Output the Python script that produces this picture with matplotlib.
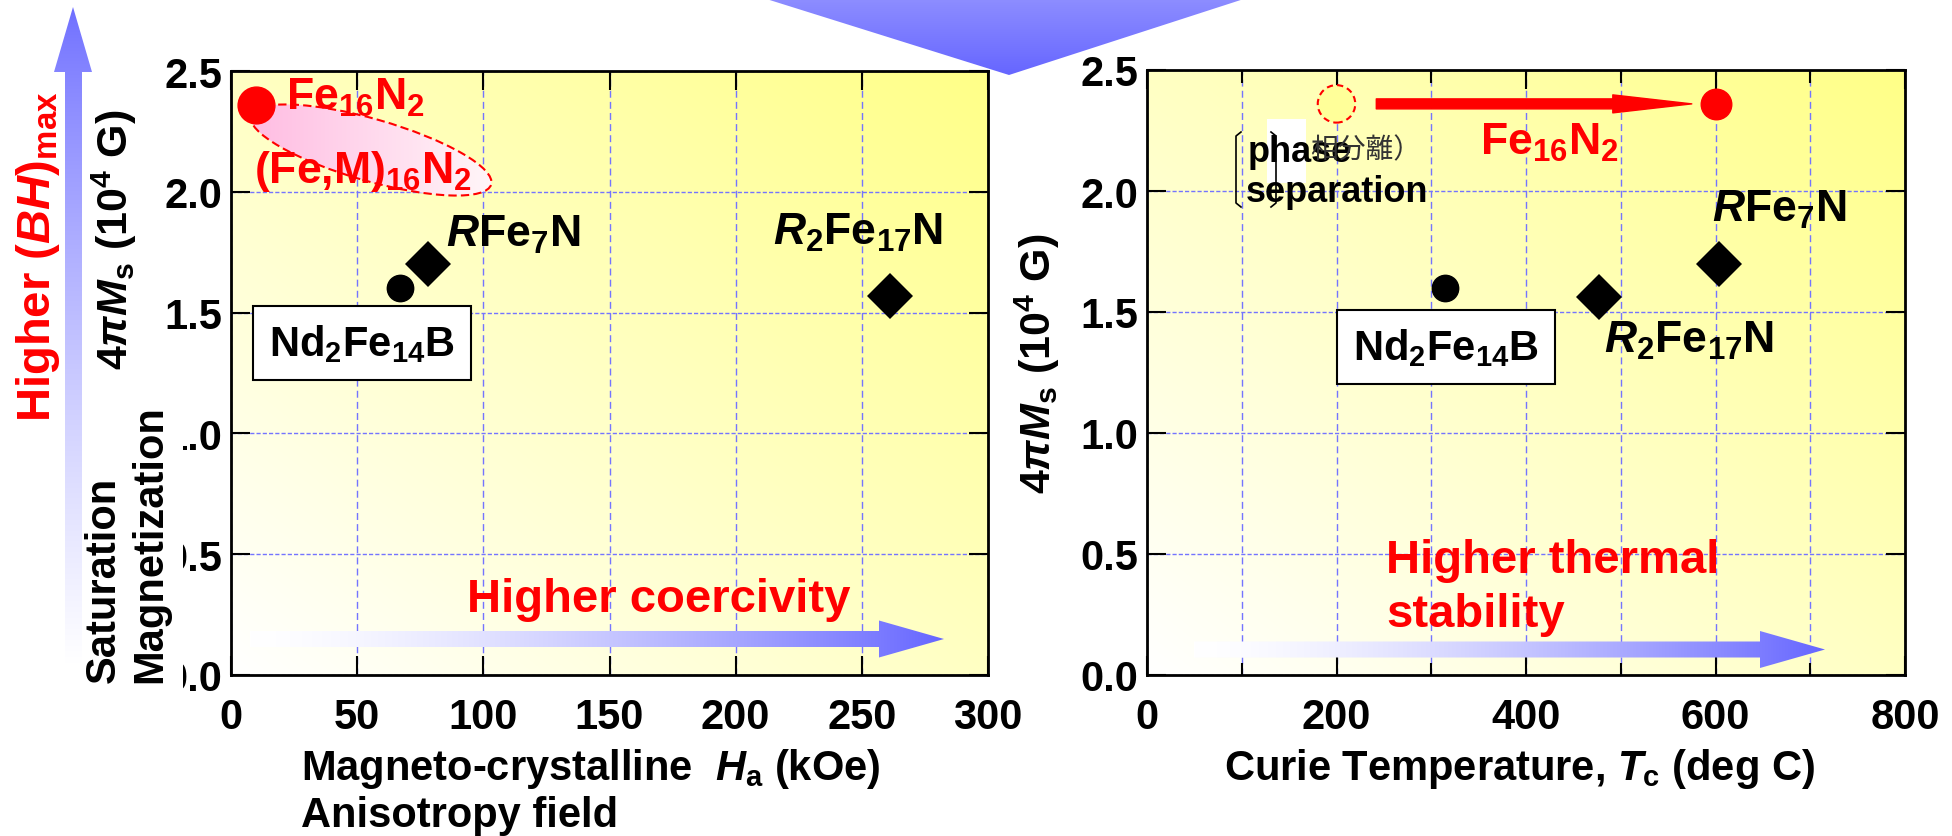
import matplotlib
matplotlib.use('Agg')
import matplotlib.pyplot as plt
import numpy as np
from matplotlib.patches import Ellipse, Polygon, Rectangle, FancyArrowPatch

plt.rcParams['font.family'] = ['Liberation Sans', 'DejaVu Sans']
plt.rcParams['font.weight'] = 'bold'
plt.rcParams['font.size'] = 30
plt.rcParams['mathtext.fontset'] = 'custom'
plt.rcParams['mathtext.rm'] = 'Liberation Sans:bold'
plt.rcParams['mathtext.it'] = 'Liberation Sans:italic:bold'
plt.rcParams['mathtext.bf'] = 'Liberation Sans:bold'

# ---- data ----
materials = ['Fe$_{16}$N$_{2}$', 'Nd$_{2}$Fe$_{14}$B', '$R$Fe$_{7}$N', '$R_{2}$Fe$_{17}$N']
ha_koe = [10, 67, 78, 261]          # anisotropy field
ms_left = [2.36, 1.60, 1.70, 1.57]   # 4piMs (10^4 G)
tc_degc = [600, 315, 604, 477]       # Curie temperature
ms_right = [2.36, 1.60, 1.70, 1.56]
phase_sep_tc = [200]
phase_sep_ms = [2.36]
left_xticks = [0, 50, 100, 150, 200, 250, 300]
right_xticks = [0, 200, 400, 600, 800]
right_minor = [100, 300, 500, 700]
yticks = [0.0, 0.5, 1.0, 1.5, 2.0, 2.5]

RED = '#ff0000'
BLUE = (0.40, 0.40, 1.0)
GRID = '#7474ff'
W, H = 1952, 837

fig = plt.figure(figsize=(W / 100, H / 100), dpi=100)
ax1 = fig.add_axes([231 / W, 1 - 676 / H, 757 / W, 604 / H])
ax2 = fig.add_axes([1147 / W, 1 - 676 / H, 758 / W, 605 / H])


def yellow_bg(ax, xmax):
    u = np.linspace(0, 1, 300)
    U, V = np.meshgrid(u, u[::-1])
    t = (U + V) / 2
    img = np.ones((300, 300, 3))
    img[..., 2] = 1 - t * (1 - 135 / 255)
    ax.imshow(img, extent=(0, xmax, 0, 2.5), aspect='auto', zorder=0,
              interpolation='bilinear')


def style_axis(ax, xmax, xticks, minor=None):
    ax.set_xticks(xticks)
    if minor:
        ax.set_xticks(minor, minor=True)
    ax.set_yticks(yticks)
    ax.set_yticklabels([f'{v:.1f}' for v in yticks])
    ax.tick_params(which='major', direction='in', length=14, width=1.5,
                   top=True, right=True, labelsize=30)
    ax.tick_params(which='minor', direction='in', length=9, width=1.5, top=True)
    ax.tick_params(axis='x', pad=16)
    ax.tick_params(axis='y', pad=6)
    for s in ax.spines.values():
        s.set_linewidth(2)
    ax.grid(True, axis='x', which='both', color=GRID, lw=1, ls=(0, (5, 3)))
    ax.grid(True, axis='y', which='major', color=GRID, lw=1, ls=(0, (3, 1.5)))
    ax.set_axisbelow(True)
    ax.set_xlim(0, xmax)
    ax.set_ylim(0, 2.5)


# ---- left panel: Ms vs anisotropy field ----
yellow_bg(ax1, 300)
# (Fe,M)16N2 region
region = Ellipse((3.71, (H - 151) / 100), 2.50, 0.62, angle=-16,
                 transform=fig.dpi_scale_trans, facecolor='none',
                 edgecolor=RED, lw=1.5, ls=(0, (4, 2)), zorder=1.2)
ax1.add_patch(region)
tg = np.linspace(0, 1, 200)
pink = np.stack([np.ones_like(tg), 0.72 + 0.26 * tg, 0.88 + 0.1 * tg], axis=-1)[None, :, :]
im = ax1.imshow(pink, extent=(0, 110, 1.9, 2.5), aspect='auto', zorder=1.1,
                interpolation='bilinear')
im.set_clip_path(Ellipse((3.71, (H - 151) / 100), 2.50, 0.62, angle=-16,
                         transform=fig.dpi_scale_trans))

ax1.plot(ha_koe[0], ms_left[0], 'o', color=RED, ms=26.5, zorder=3)
ax1.plot(ha_koe[1], ms_left[1], 'o', color='black', ms=19, zorder=3)
ax1.plot(ha_koe[2:], ms_left[2:], 'D', color='black', ms=23.5, mew=0, ls='none', zorder=3)

ax1.text(21.8, 2.344, materials[0], color=RED, fontsize=32, va='baseline')
ax1.text(9.1, 2.04, '(Fe,M)$_{16}$N$_{2}$', color=RED, fontsize=32, va='baseline')
ax1.text(85.3, 1.776, materials[2], fontsize=32, va='baseline')
ax1.text(214.7, 1.784, materials[3], fontsize=32, va='baseline')
ax1.text(52.0, 1.374, materials[1], fontsize=30, ha='center', va='center',
         bbox=dict(boxstyle='square,pad=0.38', fc='white', ec='black', lw=1.5))
style_axis(ax1, 300, left_xticks)

# ---- right panel: Ms vs Curie temperature ----
yellow_bg(ax2, 800)
ax2.scatter(phase_sep_tc, phase_sep_ms, s=27 ** 2, facecolor='#ffff99',
            edgecolor=RED, linewidths=1.5, linestyle=(0, (3, 2)), zorder=3)
ax2.add_patch(FancyArrowPatch((242, 2.36), (575, 2.36),
                              arrowstyle='simple,head_length=7.9,head_width=1.8,tail_width=1.0',
                              mutation_scale=7.2, color=RED, shrinkA=0, shrinkB=0, zorder=3))
ax2.plot(tc_degc[0], ms_right[0], 'o', color=RED, ms=22, zorder=3)
ax2.plot(tc_degc[1], ms_right[1], 'o', color='black', ms=19, zorder=3)
ax2.plot(tc_degc[2:], ms_right[2:], 'D', color='black', ms=23.5, mew=0, ls='none', zorder=3)

ax2.text(351, 2.153, materials[0], color=RED, fontsize=32, va='baseline')
ax2.text(596, 1.876, materials[2], fontsize=32, va='baseline')
ax2.text(482, 1.335, materials[3], fontsize=32, va='baseline')
ax2.text(315.6, 1.355, materials[1], fontsize=30, ha='center', va='center',
         bbox=dict(boxstyle='square,pad=0.38', fc='white', ec='black', lw=1.5))
style_axis(ax2, 800, right_xticks, right_minor)

# ---- overlay for decorations, in pixel coordinates ----
ov = fig.add_axes([0, 0, 1, 1], zorder=5)
ov.axis('off')


def grad_shape(pts, extent, c0, c1, vertical=False, power=1.0, z=2):
    t = np.linspace(0, 1, 256) ** power
    cols = np.array(c0)[None, :] * (1 - t[:, None]) + np.array(c1)[None, :] * t[:, None]
    img = cols[:, None, :] if vertical else cols[None, :, :]
    im = ov.imshow(img, extent=extent, aspect='auto', interpolation='bilinear', zorder=z)
    im.set_clip_path(Polygon(pts, closed=True, transform=ov.transData))


def harrow(x0, xh, x1, yc, sh, hh):
    return [(x0, yc - sh), (xh, yc - sh), (xh, yc - hh), (x1, yc),
            (xh, yc + hh), (xh, yc + sh), (x0, yc + sh)]


# top triangle
grad_shape([(760, -2), (1250, -2), (1009, 76)], (760, 1250, 76, -2),
           (0.56, 0.56, 1.0), (0.40, 0.40, 1.0), vertical=True)
# vertical arrow (higher BH max)
varrow = [(73, 8), (92, 73), (82, 73), (82, 665), (65, 665), (65, 73), (54, 73)]
grad_shape(varrow, (50, 96, 665, 8), (0.43, 0.43, 1.0), (1, 1, 1),
           vertical=True, power=0.8)
# horizontal arrows
grad_shape(harrow(250, 879, 944, 640, 8, 18.5), (250, 944, 660, 620),
           (1, 1, 1), BLUE, power=1.5)
grad_shape(harrow(1194, 1760, 1825, 650.5, 8, 18.5), (1194, 1825, 670, 630),
           (1, 1, 1), BLUE, power=1.5)

# white patch that hides the left tick labels
ov.add_patch(Rectangle((83, 398), 100, 302, facecolor='white', edgecolor='none', zorder=3))

ov.text(50, 257, 'Higher ($\\mathit{BH}$)$_{\\mathrm{max}}$', color=RED, fontsize=34,
        rotation=90, rotation_mode='anchor', ha='center', va='baseline', zorder=4)
ylab = '$\\mathit{4}\\pi M_{\\mathrm{s}}$ (10$^{4}$ G)'
ov.text(128, 240, ylab, fontsize=31, rotation=90, rotation_mode='anchor',
        ha='center', va='baseline', zorder=4)
ov.text(1051, 364, ylab, fontsize=31, rotation=90, rotation_mode='anchor',
        ha='center', va='baseline', zorder=4)
ov.text(115, 683, 'Saturation', fontsize=30, rotation=90, rotation_mode='anchor',
        ha='left', va='baseline', zorder=4)
ov.text(161, 683, 'Magnetization', fontsize=30, rotation=90, rotation_mode='anchor',
        ha='left', va='baseline', zorder=4)

ov.text(301, 780, 'Magneto-crystalline  $\\mathit{H}_{\\mathrm{a}}$ (kOe)', fontsize=30,
        va='baseline', zorder=4)
ov.text(301, 827, 'Anisotropy field', fontsize=30, va='baseline', zorder=4)
ov.text(1224, 780, 'Curie Temperature, $\\mathit{T}_{\\mathrm{c}}$ (deg C)', fontsize=30,
        va='baseline', zorder=4)

ov.text(467, 612, 'Higher coercivity', color=RED, fontsize=34, va='baseline', zorder=4)
ov.text(1386, 573, 'Higher thermal', color=RED, fontsize=34, va='baseline', zorder=4)
ov.text(1386, 627, 'stability', color=RED, fontsize=34, va='baseline', zorder=4)

# phase separation note
ov.add_patch(Rectangle((1267, 120), 39, 64, facecolor='white', edgecolor='none', zorder=3))
ov.text(1248, 162, 'phase', fontsize=26, va='baseline', zorder=4)
ov.text(1246, 202, 'separation', fontsize=26, va='baseline', zorder=4)
ov.text(1310, 150, '相分離）', fontsize=20, fontweight='normal', color='#333333',
        family=['Noto Sans CJK JP', 'DejaVu Sans'], va='center', zorder=4)
ov.plot([1241, 1236, 1236, 1241], [133, 137, 204, 208], color='black', lw=1.2, zorder=4)
ov.plot([1271, 1276, 1276, 1271], [133, 137, 204, 208], color='black', lw=1.2, zorder=4)

ov.set_xlim(0, W)
ov.set_ylim(H, 0)

fig.savefig('out.png', dpi=100)
